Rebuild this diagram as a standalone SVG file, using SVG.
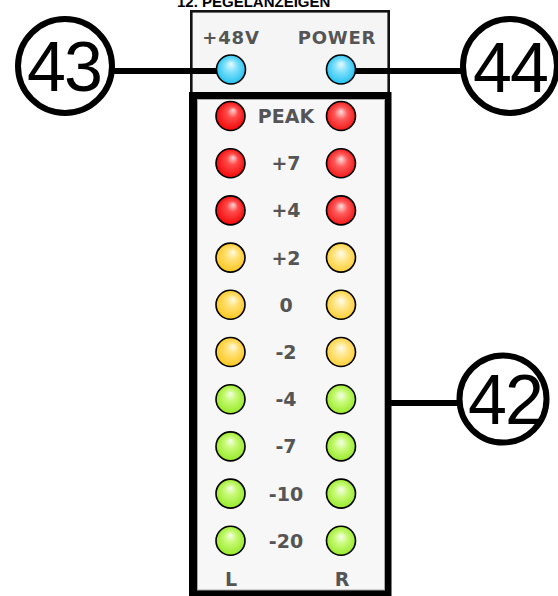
<svg xmlns="http://www.w3.org/2000/svg" width="558" height="596" viewBox="0 0 558 596">
<defs>
<radialGradient id="redL" cx="0.5" cy="0.5" r="0.55" fx="0.6" fy="0.3"><stop offset="0" stop-color="#ffd6d6"/><stop offset="0.35" stop-color="#ff4a4a"/><stop offset="1" stop-color="#f00000"/></radialGradient>
<radialGradient id="redR" cx="0.5" cy="0.5" r="0.55" fx="0.5" fy="0.35"><stop offset="0" stop-color="#ffe0e0"/><stop offset="0.4" stop-color="#ff5a5a"/><stop offset="1" stop-color="#f01010"/></radialGradient>
<radialGradient id="yelL" cx="0.5" cy="0.5" r="0.55" fx="0.6" fy="0.3"><stop offset="0" stop-color="#fffbe8"/><stop offset="0.35" stop-color="#ffe27a"/><stop offset="1" stop-color="#ffc414"/></radialGradient>
<radialGradient id="yelR" cx="0.5" cy="0.5" r="0.55" fx="0.5" fy="0.35"><stop offset="0" stop-color="#fffcee"/><stop offset="0.4" stop-color="#ffe78e"/><stop offset="1" stop-color="#ffcc2a"/></radialGradient>
<radialGradient id="grnL" cx="0.5" cy="0.5" r="0.55" fx="0.5" fy="0.3"><stop offset="0" stop-color="#f6ffec"/><stop offset="0.35" stop-color="#c8fa78"/><stop offset="1" stop-color="#92e820"/></radialGradient>
<radialGradient id="grnR" cx="0.5" cy="0.5" r="0.55" fx="0.5" fy="0.35"><stop offset="0" stop-color="#f6ffec"/><stop offset="0.4" stop-color="#c8fa78"/><stop offset="1" stop-color="#92e820"/></radialGradient>
<radialGradient id="blu" cx="0.5" cy="0.5" r="0.55" fx="0.5" fy="0.3"><stop offset="0" stop-color="#eafaff"/><stop offset="0.4" stop-color="#7fe0fb"/><stop offset="1" stop-color="#19bdf0"/></radialGradient>
</defs>
<style>
.led{stroke:#000;stroke-width:1.6}
.lbl{font-family:"DejaVu Sans",sans-serif;font-weight:bold;font-size:19px;fill:#555;text-anchor:middle}
.top{font-family:"DejaVu Sans",sans-serif;font-weight:bold;font-size:18px;fill:#555;text-anchor:middle;letter-spacing:0.8px}
.num{font-family:"Liberation Sans",Arial,sans-serif;font-size:70px;fill:#000;text-anchor:middle;letter-spacing:-2px}
.call{fill:#fff;stroke:#000;stroke-width:6}
.conn{stroke:#000;stroke-width:6;fill:none}
</style>
<rect width="558" height="596" fill="#fff"/>
<text x="177" y="7" font-family="Liberation Sans,Arial,sans-serif" font-weight="bold" font-size="15" fill="#000">12. PEGELANZEIGEN</text>
<g id="top-panel">
<rect x="191.3" y="11.3" width="197.4" height="90" fill="#f5f5f5" stroke="#111" stroke-width="2.6"/>
<text class="top" x="231" y="43.5">+48V</text>
<text class="top" x="337" y="43.5">POWER</text>
</g>
<g id="meter-panel">
<rect x="189" y="92" width="202.5" height="510" fill="#000"/>
<rect x="197.5" y="99.5" width="187" height="490.5" fill="#f7f7f7" stroke="#aaa" stroke-width="1"/>
</g>
<g id="connectors">
<line class="conn" x1="112" y1="71" x2="218" y2="71"/>
<line class="conn" x1="354" y1="71" x2="464" y2="71"/>
<line class="conn" x1="391" y1="403" x2="461" y2="403"/>
</g>
<g id="led-48v"><circle class="led" cx="231" cy="69.5" r="14.5" fill="url(#blu)"/></g>
<g id="led-power"><circle class="led" cx="341" cy="69.5" r="14.5" fill="url(#blu)"/></g>
<g id="row-peak">
<circle class="led" cx="230.5" cy="116" r="14.5" fill="url(#redL)"/>
<text class="lbl" x="286" y="123">PEAK</text>
<circle class="led" cx="341" cy="116" r="14.5" fill="url(#redR)"/>
</g>
<g id="row-p7">
<circle class="led" cx="230.5" cy="163.2" r="14.5" fill="url(#redL)"/>
<text class="lbl" x="286" y="170.2">+7</text>
<circle class="led" cx="341" cy="163.2" r="14.5" fill="url(#redR)"/>
</g>
<g id="row-p4">
<circle class="led" cx="230.5" cy="210.4" r="14.5" fill="url(#redL)"/>
<text class="lbl" x="286" y="217.4">+4</text>
<circle class="led" cx="341" cy="210.4" r="14.5" fill="url(#redR)"/>
</g>
<g id="row-p2">
<circle class="led" cx="230.5" cy="257.6" r="14.5" fill="url(#yelL)"/>
<text class="lbl" x="286" y="264.6">+2</text>
<circle class="led" cx="341" cy="257.6" r="14.5" fill="url(#yelR)"/>
</g>
<g id="row-0">
<circle class="led" cx="230.5" cy="304.8" r="14.5" fill="url(#yelL)"/>
<text class="lbl" x="286" y="311.8">0</text>
<circle class="led" cx="341" cy="304.8" r="14.5" fill="url(#yelR)"/>
</g>
<g id="row-m2">
<circle class="led" cx="230.5" cy="352" r="14.5" fill="url(#yelL)"/>
<text class="lbl" x="286" y="359">-2</text>
<circle class="led" cx="341" cy="352" r="14.5" fill="url(#yelR)"/>
</g>
<g id="row-m4">
<circle class="led" cx="230.5" cy="399.2" r="14.5" fill="url(#grnL)"/>
<text class="lbl" x="286" y="406.2">-4</text>
<circle class="led" cx="341" cy="399.2" r="14.5" fill="url(#grnR)"/>
</g>
<g id="row-m7">
<circle class="led" cx="230.5" cy="446.4" r="14.5" fill="url(#grnL)"/>
<text class="lbl" x="286" y="453.4">-7</text>
<circle class="led" cx="341" cy="446.4" r="14.5" fill="url(#grnR)"/>
</g>
<g id="row-m10">
<circle class="led" cx="230.5" cy="493.6" r="14.5" fill="url(#grnL)"/>
<text class="lbl" x="286" y="500.6">-10</text>
<circle class="led" cx="341" cy="493.6" r="14.5" fill="url(#grnR)"/>
</g>
<g id="row-m20">
<circle class="led" cx="230.5" cy="540.8" r="14.5" fill="url(#grnL)"/>
<text class="lbl" x="286" y="547.8">-20</text>
<circle class="led" cx="341" cy="540.8" r="14.5" fill="url(#grnR)"/>
</g>
<g id="channel-labels">
<text class="lbl" x="231" y="585.5">L</text>
<text class="lbl" x="342" y="585.5">R</text>
</g>
<g id="callout-43">
<circle class="call" cx="65" cy="66" r="47"/>
<text class="num" x="64" y="91">43</text>
</g>
<g id="callout-44">
<circle class="call" cx="510" cy="66" r="47"/>
<text class="num" x="510" y="91.5">44</text>
</g>
<g id="callout-42">
<circle class="call" cx="503" cy="399" r="43.5"/>
<text class="num" x="505" y="423.5">42</text>
</g>
</svg>
